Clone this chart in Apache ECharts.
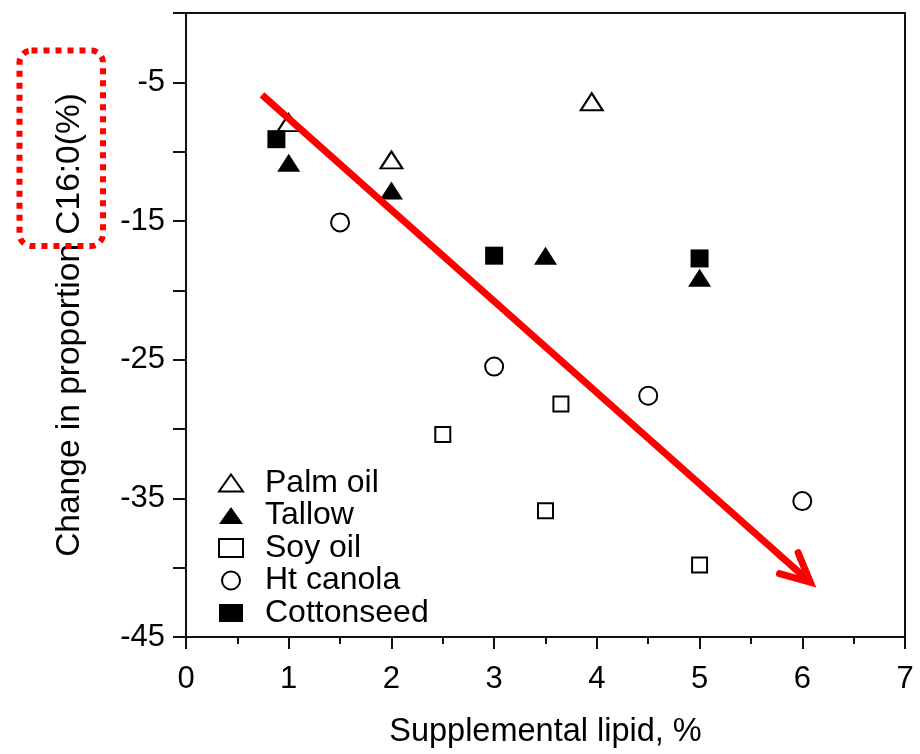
<!DOCTYPE html>
<html>
<head>
<meta charset="utf-8">
<script src="https://cdn.jsdelivr.net/npm/echarts@6/dist/echarts.min.js"></script>
<style>
  html, body { margin: 0; padding: 0; background: #fff; }
  #chart { width: 920px; height: 754px; }
</style>
</head>
<body>
<div id="chart"></div>
<script>
// Change in milk C16:0 proportion vs. supplemental lipid level, by lipid source
const palmOil   = [[1, -7.9], [2, -10.6], [3.95, -6.4]];
const tallow    = [[1, -10.8], [2, -12.8], [3.5, -17.5], [5, -19.1]];
const soyOil    = [[2.5, -30.4], [3.65, -28.2], [3.5, -35.9], [5, -39.8]];
const htCanola  = [[1.5, -15.1], [3, -25.5], [4.5, -27.6], [6, -35.2]];
const cottonseed = [[0.88, -9.1], [3, -17.5], [5, -17.7]];

const seriesNames = ['Palm oil', 'Tallow', 'Soy oil', 'Ht canola', 'Cottonseed'];
const xTicks = [0, 1, 2, 3, 4, 5, 6, 7];
const yTicks = [-45, -40, -35, -30, -25, -20, -15, -10, -5, 0];
const yLabelled = [-45, -35, -25, -15, -5];

// trend arrow drawn over the scatter, given in data units (start, tip)
const trendArrow = [[0.74, -5.9], [6.1, -41.2]];

const FONT = '"Liberation Sans", Arial, Helvetica, sans-serif';
const INK = '#000';
const TRI = 'path://M12,0 L24,17 L0,17 Z';

const chart = echarts.init(document.getElementById('chart'), null, { renderer: 'canvas' });

const openStyle = { color: '#fff', borderColor: INK, borderWidth: 2, opacity: 1 };
const fillStyle = { color: INK, borderColor: INK, borderWidth: 0, opacity: 1 };

function scatter(name, data, symbol, size, style) {
  return {
    name: name,
    type: 'scatter',
    data: data,
    symbol: symbol,
    symbolSize: size,
    itemStyle: style,
    emphasis: { disabled: true },
    z: 3
  };
}

const option = {
  animation: false,
  backgroundColor: '#fff',
  grid: {
    left: 186, right: 15, top: 13, bottom: 114,
    show: true, borderColor: '#111', borderWidth: 2, backgroundColor: 'transparent'
  },
  legend: {
    orient: 'vertical',
    left: 218, top: 467, padding: 0,
    itemWidth: 24, itemHeight: 18, itemGap: 0.5,
    symbolKeepAspect: true,
    selectedMode: false,
    textStyle: { fontFamily: FONT, fontSize: 32, color: INK, padding: [0, 0, 0, 17] },
    data: [
      { name: 'Palm oil', icon: TRI },
      { name: 'Tallow', icon: TRI },
      { name: 'Soy oil', icon: 'rect' },
      { name: 'Ht canola', icon: 'circle' },
      { name: 'Cottonseed', icon: 'rect' }
    ]
  },
  xAxis: {
    type: 'value',
    min: xTicks[0], max: xTicks[xTicks.length - 1], interval: 1,
    name: 'Supplemental lipid, %',
    nameLocation: 'middle', nameGap: 79,
    nameTextStyle: { fontFamily: FONT, fontSize: 32.5, color: INK },
    axisLine: { show: true, onZero: false, lineStyle: { color: '#111', width: 2 } },
    axisTick: { show: true, inside: false, length: 12, lineStyle: { color: '#111', width: 2 } },
    minorTick: { show: true, splitNumber: 2, length: 7, lineStyle: { color: '#111', width: 2 } },
    axisLabel: { fontFamily: FONT, fontSize: 31, color: INK, margin: 27 },
    splitLine: { show: false }
  },
  yAxis: {
    type: 'value',
    min: yTicks[0], max: yTicks[yTicks.length - 1], interval: 5,
    name: 'Change in proportion C16:0(%)',
    nameLocation: 'middle', nameGap: 99, nameRotate: 90,
    nameTextStyle: { fontFamily: FONT, fontSize: 33.5, color: INK },
    axisLine: { show: true, onZero: false, lineStyle: { color: '#111', width: 2 } },
    axisTick: { show: true, inside: false, length: 13, lineStyle: { color: '#111', width: 2 } },
    axisLabel: {
      fontFamily: FONT, fontSize: 31, color: INK, margin: 21,
      formatter: v => (yLabelled.indexOf(v) >= 0 ? String(v) : '')
    },
    splitLine: { show: false }
  },
  series: [
    scatter(seriesNames[0], palmOil, TRI, [22, 17], openStyle),
    scatter(seriesNames[1], tallow, TRI, [23, 18], fillStyle),
    scatter(seriesNames[2], soyOil, 'rect', 15, openStyle),
    scatter(seriesNames[3], htCanola, 'circle', 18, openStyle),
    scatter(seriesNames[4], cottonseed, 'rect', 18, fillStyle)
  ]
};

chart.setOption(option);

// red trend arrow and the dotted highlight around the fatty-acid label
function drawOverlay() {
  const p0 = chart.convertToPixel({ gridIndex: 0 }, trendArrow[0]);
  const p1 = chart.convertToPixel({ gridIndex: 0 }, trendArrow[1]);
  const dx = p1[0] - p0[0], dy = p1[1] - p0[1];
  const len = Math.sqrt(dx * dx + dy * dy);
  const ux = dx / len, uy = dy / len;
  const headLen = 32, ang = 26 * Math.PI / 180;
  const bx = -ux, by = -uy;
  const rot = (x, y, a) => [x * Math.cos(a) - y * Math.sin(a), x * Math.sin(a) + y * Math.cos(a)];
  const b1 = rot(bx, by, ang), b2 = rot(bx, by, -ang);
  const tip = [p1[0] - ux * 3, p1[1] - uy * 3];
  const red = '#ff0000';

  chart.setOption({
    graphic: [
      {
        type: 'line', z: 10,
        shape: { x1: p0[0], y1: p0[1], x2: tip[0], y2: tip[1] },
        style: { stroke: red, lineWidth: 7, lineCap: 'butt' }
      },
      {
        type: 'polyline', z: 10,
        shape: { points: [
          [tip[0] + b1[0] * headLen, tip[1] + b1[1] * headLen],
          tip,
          [tip[0] + b2[0] * headLen, tip[1] + b2[1] * headLen]
        ] },
        style: { stroke: red, lineWidth: 7, lineCap: 'round', lineJoin: 'miter', fill: null }
      },
      {
        type: 'rect', z: 10,
        shape: { x: 19.5, y: 50.5, width: 83.5, height: 195.5, r: 12 },
        style: { fill: null, stroke: red, lineWidth: 6, lineDash: [6, 6] }
      }
    ]
  });
}
drawOverlay();
</script>
</body>
</html>
